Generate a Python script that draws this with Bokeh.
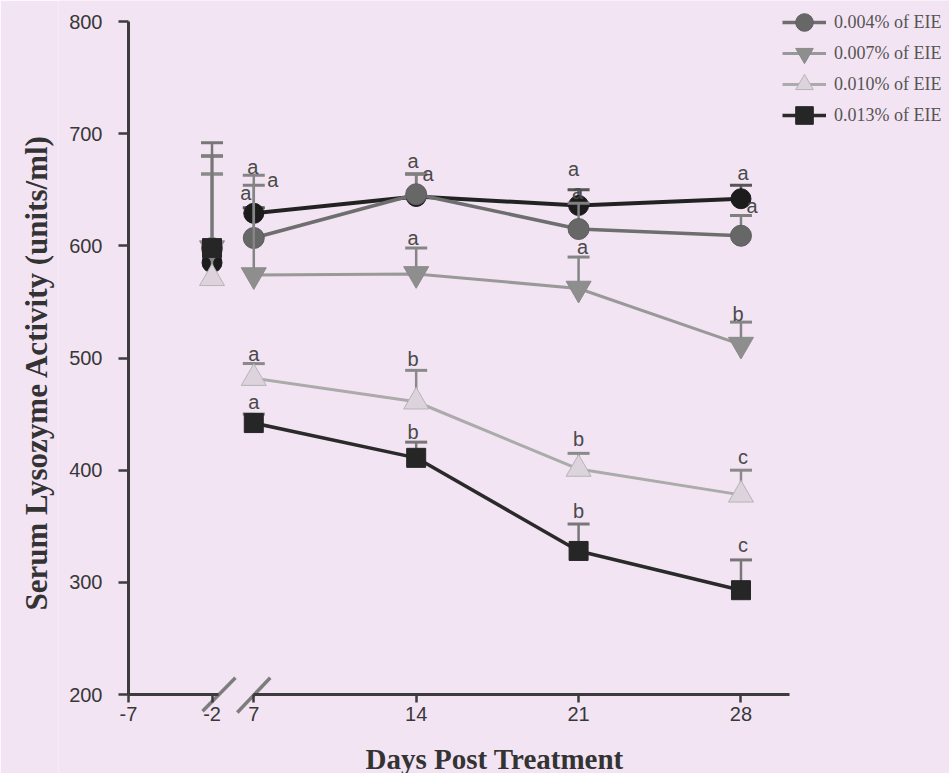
from bokeh.plotting import figure
from bokeh.models import (ColumnDataSource, LinearAxis, FixedTicker, Range1d,
                          Legend, LegendItem, Label, Title)
from bokeh.core.properties import value
from bokeh.embed import file_html
from bokeh.resources import INLINE

# ---------------- data ----------------
DAYS = [-2, 7, 14, 21, 28]
X_TICK_DAYS = [-7, -2, 7, 14, 21, 28]
Y_TICKS = [200, 300, 400, 500, 600, 700, 800]

control_mean = [585, 629, 644, 636, 642]
control_err = [95, 5, 20, 14, 12]
control_sig = ["", "a", "a", "a", "a"]

eie004_mean = [598, 607, 646, 615, 609]
eie004_err = [82, 47, 18, 23, 18]
eie004_sig = ["", "a", "a", "a", "a"]

eie007_mean = [598, 574, 575, 562, 512]
eie007_err = [66, 89, 23, 28, 20]
eie007_sig = ["", "a", "a", "a", "b"]

eie010_mean = [571, 482, 461, 401, 378]
eie010_err = [93, 13, 28, 14, 22]
eie010_sig = ["", "a", "b", "b", "c"]

eie013_mean = [598, 442, 411, 328, 293]
eie013_err = [94, 8, 14, 24, 27]
eie013_sig = ["", "a", "b", "b", "c"]

# ---------------- layout / style ----------------
BG = "#f3e4f3"
AXIS_C = "#3c3c3c"
TXT_C = "#383838"

W, H = 949, 773
FRAME_LEFT = 58
Y_AXIS_PX = 128      # pixel column of the y axis
Y_TOP_PX = 21        # pixel row of the 800 tick
PX_PER_DAY = 23.2
PX_PER_UNIT = 1.1217

# broken x axis: days before the break are compressed
BREAK_DAY = 7
LEFT_ORIGIN = 1.6
LEFT_SCALE = 0.72
BREAK_L = 5.5
BREAK_R = 7.0
AXIS_END = 30.1
Y_BASE = 200
Y_TOP = 800


def xpos(d):
    if d >= BREAK_DAY:
        return float(d)
    return round(LEFT_ORIGIN + (d + 7) * LEFT_SCALE, 4)


X_START = LEFT_ORIGIN - (Y_AXIS_PX - FRAME_LEFT) / PX_PER_DAY
X_END = LEFT_ORIGIN + (W - Y_AXIS_PX) / PX_PER_DAY
Y_END = Y_TOP + Y_TOP_PX / PX_PER_UNIT
Y_START = Y_TOP - (H - Y_TOP_PX) / PX_PER_UNIT

# per-label pixel offsets (dx, dy) for the significance letters
LBL_SHIFT = -5
OFFS = {
    "Control": ([0, -8, -3, -5, 2], [0, -10, -8, -16, -7]),
    "0.004% of EIE": ([0, 19, 12, -1, 11], [0, 0, 5, -6, -5]),
    "0.007% of EIE": ([0, -1, -3, 4, -3], [0, -3, -5, -5, -3]),
    "0.010% of EIE": ([0, 0, -3, 0, 2], [0, -5, -6, -9, -8]),
    "0.013% of EIE": ([0, 0, -3, 0, 2], [0, -7, -5, -8, -10]),
}

STYLE = {
    "Control": dict(marker="circle", fill="#1c1c1c", line="#1c1c1c", size=20,
                    lc="#222222", lw=4, ec="#555555"),
    "0.004% of EIE": dict(marker="circle", fill="#676767", line="#5e5e5e", size=21,
                          lc="#6e6e6e", lw=3.5, ec="#808080"),
    "0.007% of EIE": dict(marker="inverted_triangle", fill="#8e8e8e", line="#8a8a8a", size=25,
                          lc="#999999", lw=3, ec="#858585"),
    "0.010% of EIE": dict(marker="triangle", fill="#dcd3dc", line="#b5b5b5", size=25,
                          lc="#ababab", lw=3, ec="#8a8a8a"),
    "0.013% of EIE": dict(marker="square", fill="#262626", line="#262626", size=19,
                          lc="#2a2a2a", lw=3.5, ec="#777777"),
}

SERIES = [
    ("Control", control_mean, control_err, control_sig),
    ("0.004% of EIE", eie004_mean, eie004_err, eie004_sig),
    ("0.007% of EIE", eie007_mean, eie007_err, eie007_sig),
    ("0.010% of EIE", eie010_mean, eie010_err, eie010_sig),
    ("0.013% of EIE", eie013_mean, eie013_err, eie013_sig),
]

# ---------------- figure ----------------
p = figure(width=W, height=H, x_range=Range1d(X_START, X_END),
           y_range=Range1d(Y_START, Y_END), x_axis_type=None, y_axis_type=None,
           output_backend="svg", toolbar_location=None,
           min_border_left=FRAME_LEFT, min_border_top=0, min_border_right=0,
           min_border_bottom=0, background_fill_color=BG,
           border_fill_color=BG, outline_line_color=None)

yax = LinearAxis(ticker=FixedTicker(ticks=Y_TICKS), bounds=(Y_BASE, Y_TOP),
                 fixed_location=xpos(-7))
yax.axis_line_color = AXIS_C
yax.axis_line_width = 3
yax.major_tick_line_color = AXIS_C
yax.major_tick_line_width = 2.5
yax.major_tick_out = 10
yax.major_tick_in = 0
yax.minor_tick_line_color = None
yax.major_label_standoff = 16
yax.major_label_text_font = "Liberation Sans"
yax.major_label_text_font_size = "20px"
yax.major_label_text_color = TXT_C
p.add_layout(yax, "left")

p.add_layout(Title(text="Serum Lysozyme Activity (units/ml)", align="left", offset=163,
                   standoff=9, text_font="Liberation Serif", text_font_style="bold",
                   text_font_size="31px", text_color="#333333"), "left")

left_ticks = [xpos(-7), xpos(-2)]
right_ticks = [xpos(d) for d in X_TICK_DAYS if d >= BREAK_DAY]
ax_left = LinearAxis(ticker=FixedTicker(ticks=left_ticks), bounds=(xpos(-7), BREAK_L),
                     fixed_location=Y_BASE,
                     major_label_overrides={xpos(d): str(d) for d in X_TICK_DAYS if d < BREAK_DAY})
ax_right = LinearAxis(ticker=FixedTicker(ticks=right_ticks), bounds=(BREAK_R, AXIS_END),
                      fixed_location=Y_BASE)
for ax in (ax_left, ax_right):
    ax.axis_line_color = AXIS_C
    ax.axis_line_width = 3
    ax.major_tick_line_color = AXIS_C
    ax.major_tick_line_width = 2.5
    ax.major_tick_out = 8
    ax.major_tick_in = 0
    ax.minor_tick_line_color = None
    ax.major_label_standoff = 4
    ax.major_label_text_font = "Liberation Sans"
    ax.major_label_text_font_size = "20px"
    ax.major_label_text_color = TXT_C
    p.add_layout(ax, "below")

# axis-break slashes
p.segment(x0=[BREAK_L - 0.71, BREAK_R - 0.71], y0=[Y_BASE - 15, Y_BASE - 16],
          x1=[BREAK_L + 0.71, BREAK_R + 0.71], y1=[Y_BASE + 15, Y_BASE + 15],
          line_color="#7d7d7d", line_width=3.5)

legend_items = []
text_sources = []
for name, mean, err, sig in SERIES:
    st = STYLE[name]
    xs = [xpos(d) for d in DAYS]
    upper = [m + e for m, e in zip(mean, err)]
    src = ColumnDataSource(dict(x=xs, mean=mean, upper=upper, sig=sig,
                                dx=OFFS[name][0],
                                dy=[v + LBL_SHIFT for v in OFFS[name][1]]))
    line_src = ColumnDataSource(dict(x=[xpos(d) for d in DAYS if d >= BREAK_DAY],
                                     mean=[m for d, m in zip(DAYS, mean) if d >= BREAK_DAY]))
    lr = p.line("x", "mean", source=line_src, line_color=st["lc"], line_width=st["lw"])
    p.segment(x0="x", y0="mean", x1="x", y1="upper", source=src,
              line_color=st["ec"], line_width=2.5)
    p.scatter("x", "upper", source=src, marker="dash", size=22,
              line_color=st["ec"], line_width=3)
    mr = p.scatter("x", "mean", source=src, marker=st["marker"], size=st["size"],
                   fill_color=st["fill"], line_color=st["line"], line_width=1)
    if name != "Control":
        legend_items.append(LegendItem(label=name, renderers=[lr, mr]))
    text_sources.append(src)

for src in text_sources:
    p.text("x", "upper", text="sig", source=src, x_offset="dx", y_offset="dy",
           text_align="center", text_baseline="alphabetic",
           text_font=value("Liberation Sans"), text_font_size="20px",
           text_color="#4a4a4a")

# one legend box per entry so that the rows can sit closer than the glyph box
LEG_X = 782 - FRAME_LEFT
LEG_ROW0, LEG_PITCH, LEG_GH = 22, 31, 44
for i, item in enumerate(legend_items):
    yc = LEG_ROW0 + LEG_PITCH * i
    lg = Legend(items=[item], location=(LEG_X, H - (yc + LEG_GH // 2)),
                orientation="vertical",
                background_fill_alpha=0, border_line_color=None,
                label_text_font="Liberation Serif", label_text_font_size="18px",
                label_text_color="#555555", glyph_width=44, glyph_height=LEG_GH,
                spacing=0, padding=0, margin=0, label_standoff=8)
    p.add_layout(lg)

p.add_layout(Label(x=365 - FRAME_LEFT, y=H - 742, x_units="screen", y_units="screen",
                   text="Days Post Treatment", text_font="Liberation Serif",
                   text_font_style="bold", text_font_size="29px",
                   text_color="#333333", text_align="left",
                   text_baseline="top"))

open("out.html", "w").write(file_html(p, INLINE, title="Serum Lysozyme Activity"))
